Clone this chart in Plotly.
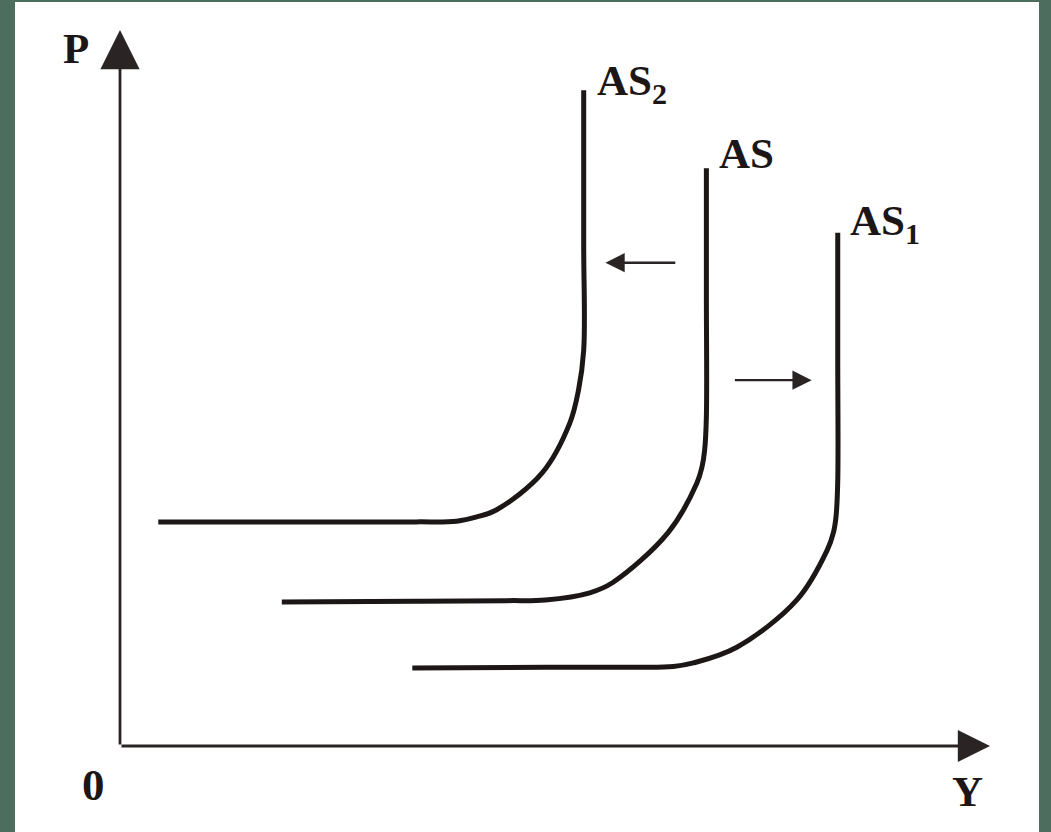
import plotly.graph_objects as go

# ---- data (X = output Y, P = price level) ----
as2_x = [0.44, 2.00, 3.40, 3.87, 4.10, 4.33, 4.85, 5.17, 5.27, 5.33, 5.33, 5.33]
as2_p = [3.13, 3.13, 3.13, 3.14, 3.20, 3.30, 3.81, 4.51, 4.97, 5.53, 7.00, 9.16]

as_x = [1.86, 3.40, 4.45, 4.89, 5.40, 5.66, 6.30, 6.63, 6.69, 6.72, 6.74, 6.74, 6.74]
as_p = [2.01, 2.02, 2.03, 2.04, 2.14, 2.28, 2.98, 3.67, 3.90, 4.13, 4.60, 6.30, 8.07]

as1_x = [3.36, 4.90, 5.90, 6.36, 6.59, 7.09, 7.78, 8.13, 8.20, 8.23, 8.25, 8.25, 8.25]
as1_p = [1.09, 1.10, 1.10, 1.11, 1.16, 1.38, 2.04, 2.74, 2.98, 3.20, 3.70, 5.40, 7.17]

curve_names = ["AS<sub>2</sub>", "AS", "AS<sub>1</sub>"]
label_x = [5.46, 6.86, 8.37]
label_p = [9.24, 8.27, 7.29]

axis_max_x = 10.0
axis_max_p = 10.0

shift_arrow_from_x = [6.40, 7.05]
shift_arrow_to_x = [5.58, 7.95]
shift_arrow_p = [6.75, 5.11]

INK = "#1c1616"
FONT = "Liberation Serif"

fig = go.Figure()
for xs, ps in [(as2_x, as2_p), (as_x, as_p), (as1_x, as1_p)]:
    fig.add_trace(go.Scatter(x=xs, y=ps, mode="lines",
                             line=dict(color=INK, width=5, shape="spline", smoothing=1.0),
                             hoverinfo="skip", showlegend=False))

ann = []
# axes with arrowheads
ann.append(dict(x=0, y=axis_max_p, ax=0, ay=0, xref="x", yref="y", axref="x", ayref="y",
                text="", showarrow=True, arrowhead=2, arrowsize=2.8, arrowwidth=2.8,
                arrowcolor="#2a2424"))
ann.append(dict(x=axis_max_x, y=0, ax=0, ay=0, xref="x", yref="y", axref="x", ayref="y",
                text="", showarrow=True, arrowhead=2, arrowsize=2.3, arrowwidth=2.8,
                arrowcolor="#2a2424"))
# shift arrows
for fx, tx, p in zip(shift_arrow_from_x, shift_arrow_to_x, shift_arrow_p):
    ann.append(dict(x=tx, y=p, ax=fx, ay=p, xref="x", yref="y", axref="x", ayref="y",
                    text="", showarrow=True, arrowhead=2, arrowsize=1.6, arrowwidth=2.4,
                    arrowcolor="#2a2424"))
# curve labels
for name, lx, lp in zip(curve_names, label_x, label_p):
    ann.append(dict(x=lx, y=lp, xref="x", yref="y", text=f"<b>{name}</b>", showarrow=False,
                    xanchor="left", yanchor="middle",
                    font=dict(family=FONT, size=43, color=INK)))
# axis labels
ann.append(dict(x=-0.51, y=9.74, xref="x", yref="y", text="<b>P</b>", showarrow=False,
                font=dict(family=FONT, size=43, color=INK)))
ann.append(dict(x=-0.31, y=-0.55, xref="x", yref="y", text="<b>0</b>", showarrow=False,
                font=dict(family=FONT, size=45, color=INK)))
ann.append(dict(x=9.74, y=-0.63, xref="x", yref="y", text="<b>Y</b>", showarrow=False,
                font=dict(family=FONT, size=43, color=INK)))

fig.update_layout(
    width=1051, height=832,
    margin=dict(l=15, r=12, t=2, b=0, pad=0),
    paper_bgcolor="#4d6e5e",
    plot_bgcolor="#ffffff",
    xaxis=dict(range=[-1.2069, 10.5632], visible=False, fixedrange=True),
    yaxis=dict(range=[-1.2011, 10.3911], visible=False, fixedrange=True),
    annotations=ann,
    showlegend=False,
)

fig.write_html("out.html", config={"displayModeBar": False},
               post_script="document.body.style.margin='0';document.body.style.background='#4d6e5e';")
